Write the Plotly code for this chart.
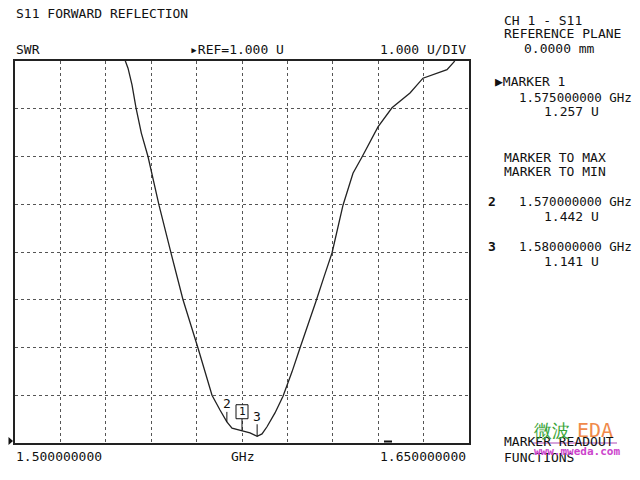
import plotly.graph_objects as go

# ---- data ----
freq_ghz = [1.5354, 1.53634, 1.53734, 1.53866, 1.53998, 1.54174, 1.54394, 1.54758,
            1.55154, 1.55551, 1.56046, 1.56509, 1.56773, 1.570, 1.5717, 1.575,
            1.57764, 1.580, 1.58161, 1.58326, 1.58590, 1.58855, 1.59152, 1.59416,
            1.59680, 1.59945, 1.60209, 1.60474, 1.60837, 1.61167, 1.61465, 1.61993,
            1.62456, 1.63051, 1.63480, 1.63811, 1.64273, 1.64505, 1.64637]
swr = [9.45, 9.02, 8.85, 8.50, 8.02, 7.49, 7.00, 5.98,
       4.98, 4.00, 2.99, 2.00, 1.69, 1.442, 1.31, 1.257,
       1.21, 1.141, 1.19, 1.34, 1.63, 1.98, 2.49, 2.99,
       3.47, 3.97, 4.48, 4.98, 5.98, 6.65, 6.99, 7.62,
       8.02, 8.33, 8.64, 8.71, 8.82, 8.98, 9.13]

marker_ids = ["1", "2", "3"]
marker_freq = [1.575, 1.570, 1.580]
marker_val = [1.257, 1.442, 1.141]

x_start, x_stop, x_div = 1.500, 1.650, 0.015
y_ref, y_top, y_div = 1.0, 9.0, 1.0

FONT = "DejaVu Sans Mono"
INK = "#111111"

# page offset (body margin) and plot area in screen pixels
OFF = 8
L, R, T, B = 15, 469, 61, 443
W, H = 640 - 2 * OFF, 480 - 2 * OFF
PW, PH = R - L, B - T
U_PER_PX = (y_top - y_ref) / PH
G_PER_PX = (x_stop - x_start) / PW


def px(xp, yp):
    return (xp - L) / PW, (B - yp) / PH


fig = go.Figure()
fig.add_trace(go.Scatter(x=freq_ghz, y=swr, mode="lines",
                         line=dict(color="#222222", width=1.3), hoverinfo="skip"))

fig.update_xaxes(range=[x_start, x_stop], dtick=x_div, tick0=x_start,
                 showticklabels=False, ticks="",
                 showgrid=True, gridcolor="#555555", griddash="dot", gridwidth=1,
                 showline=True, linecolor="#222222", linewidth=1.5, mirror=True,
                 zeroline=False)
fig.update_yaxes(range=[y_ref, y_top], dtick=y_div, tick0=y_ref,
                 showticklabels=False, ticks="",
                 showgrid=True, gridcolor="#555555", griddash="dot", gridwidth=1,
                 showline=True, linecolor="#222222", linewidth=1.5, mirror=True,
                 zeroline=False)

ann = []
shapes = []


def text(xp, yp, s, anchor="left", size=13, color=INK, weight=None):
    xpap, ypap = px(xp, yp)
    f = dict(family=FONT, size=size, color=color)
    if weight:
        f["weight"] = weight
    ann.append(dict(x=xpap, y=ypap, xref="paper", yref="paper", text=s,
                    showarrow=False, xanchor=anchor, yanchor="middle", font=f))


# header texts
text(14, 13.5, "S11 FORWARD REFLECTION")
text(14, 49, "SWR")
text(188, 49, "▸REF=1.000 U")
text(468, 49, "1.000 U/DIV", anchor="right")

# bottom axis labels
text(14, 456, f"{x_start:.9f}")
text(242, 456, "GHz", anchor="center")
text(468, 456, f"{x_stop:.9f}", anchor="right")

# right panel
text(502, 20, "CH 1 - S11")
text(502, 34, "REFERENCE PLANE")
text(522, 48, "0.0000 mm")
text(493, 81, "▶MARKER 1")
text(517, 97, f"{marker_freq[0]:.9f} GHz", size=12.5)
text(542, 112, f"{marker_val[0]:.3f} U")
text(502, 157, "MARKER TO MAX")
text(502, 171, "MARKER TO MIN")
text(486, 201, marker_ids[1], weight="bold")
text(517, 201, f"{marker_freq[1]:.9f} GHz", size=12.5)
text(542, 216, f"{marker_val[1]:.3f} U")
text(486, 246, marker_ids[2], weight="bold")
text(517, 246, f"{marker_freq[2]:.9f} GHz", size=12.5)
text(542, 261, f"{marker_val[2]:.3f} U")
text(502, 441, "MARKER READOUT")
text(502, 457, "FUNCTIONS")

# watermark
text(532, 430, "微波", size=18, color="#3aa53a")
text(575, 430, "EDA", size=20, color="#f08a4b")
text(532, 451, "www.mweda.com", size=11, color="#cc44cc", weight="bold")
wx0, wy0 = px(533, 443)
wx1, _ = px(617, 443)
shapes.append(dict(type="line", xref="paper", yref="paper", x0=wx0, x1=wx1,
                   y0=wy0, y1=wy0, line=dict(color="#b04ab8", width=1.2)))

# reference arrow at left
ax0, ay0 = px(8.5, 437)
ax1, ay1 = px(13, 441)
ax2, ay2 = px(8.5, 445)
shapes.append(dict(type="path", xref="paper", yref="paper",
                   path=f"M {ax0} {ay0} L {ax1} {ay1} L {ax2} {ay2} Z",
                   fillcolor=INK, line=dict(color=INK, width=0)))
# small bar at bottom
bx0, by0 = px(384, 441.5)
bx1, _ = px(392, 441.5)
shapes.append(dict(type="line", xref="paper", yref="paper", x0=bx0, x1=bx1,
                   y0=by0, y1=by0, line=dict(color=INK, width=2)))

# markers
for mid, f, v in zip(marker_ids, marker_freq, marker_val):
    if mid == "1":
        stem = 12 * U_PER_PX
        shapes.append(dict(type="line", x0=f, x1=f, y0=v, y1=v + stem,
                           line=dict(color=INK, width=1)))
        shapes.append(dict(type="rect", x0=f - 6 * G_PER_PX, x1=f + 6 * G_PER_PX,
                           y0=v + stem, y1=v + stem + 14 * U_PER_PX,
                           line=dict(color=INK, width=1), fillcolor="white"))
        ann.append(dict(x=f, y=v + stem + 7 * U_PER_PX, text=mid, showarrow=False,
                        xanchor="center", yanchor="middle",
                        font=dict(family=FONT, size=11, color=INK)))
    else:
        stem = 10 * U_PER_PX if mid == "2" else 12 * U_PER_PX
        shapes.append(dict(type="line", x0=f, x1=f, y0=v, y1=v + stem,
                           line=dict(color=INK, width=1)))
        ann.append(dict(x=f, y=v + stem, yshift=8, text=mid, showarrow=False,
                        xanchor="center", yanchor="middle",
                        font=dict(family=FONT, size=13, color=INK)))

fig.update_layout(width=W, height=H,
                  margin=dict(l=L - OFF, r=(W + OFF) - R, t=T - OFF, b=(H + OFF) - B),
                  paper_bgcolor="white", plot_bgcolor="white",
                  showlegend=False, annotations=ann, shapes=shapes)

fig.write_html("out.html")
